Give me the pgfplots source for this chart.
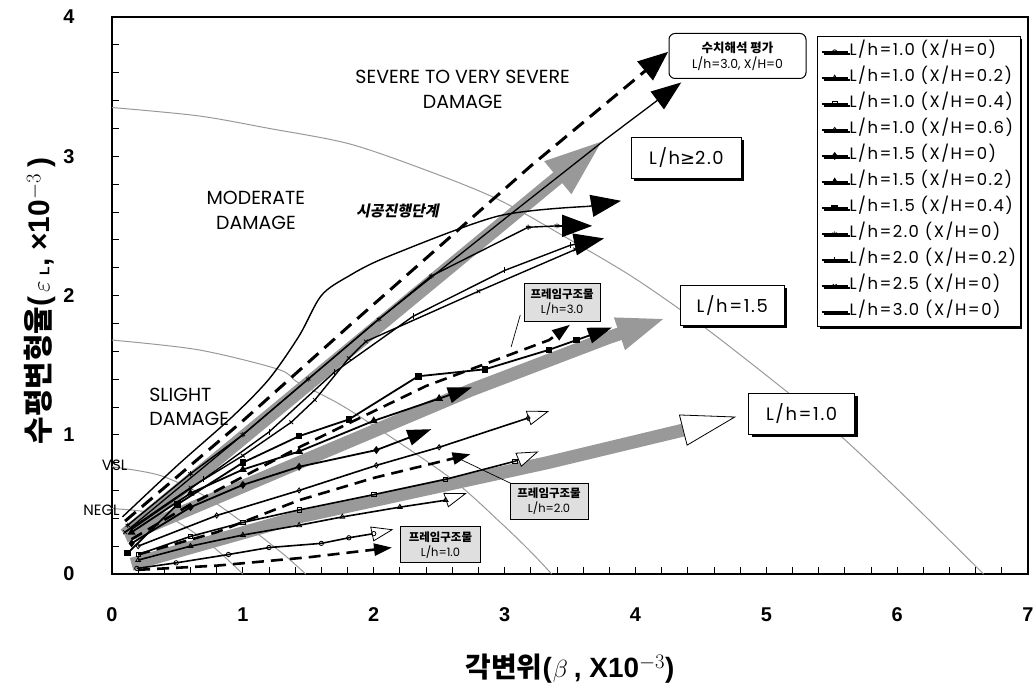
\documentclass[border=0pt]{standalone}
\usepackage{fontspec}
\usepackage{pgfplots}
\pgfplotsset{compat=1.18}
\usetikzlibrary{arrows.meta,shadows}
\setmainfont{Poppins}
\newfontfamily\legfont{Poppins}[LetterSpace=9]
\newfontfamily\tickfont{Liberation Sans}
\newfontfamily\kr{Noto Sans CJK KR}
\newfontfamily\krit{Noto Sans CJK KR}[FakeSlant=0.2]
\newfontfamily\dejavu{DejaVu Sans}
\definecolor{bnd}{gray}{0.6}
\definecolor{band}{gray}{0.6}
\begin{document}
\begin{tikzpicture}
\path[use as bounding box] (-112bp,-126bp) rectangle (924bp,574bp);
\begin{axis}[
 scale only axis, width=916bp, height=557bp,
 xmin=0,xmax=7,ymin=0,ymax=4,
 axis line style={line width=1.8bp},
 xtick={0,...,7}, ytick={0,...,4},
 minor x tick num=4, minor y tick num=4,
 xtick pos=bottom, ytick pos=left, tick align=inside,
 major tick length=7bp, minor tick length=7bp,
 tick style={black, line width=0.8bp},
 ticklabel style={font=\tickfont\bfseries\fontsize{20}{20}\selectfont},
 /pgf/number format/assume math mode=true,
 xticklabel style={yshift=-30bp},
 yticklabel style={xshift=-34bp},
 clip=false,
 legend style={at={(axis cs:5.39,3.86)}, anchor=north west, draw=black, line width=1bp,
   font=\legfont\fontsize{16.5}{16.5}\selectfont, cells={anchor=west},
   nodes={text height=12bp, text depth=4bp, inner ysep=5bp, inner xsep=1bp},
   drop shadow={opacity=1,shadow xshift=2bp,shadow yshift=-2bp,fill=black}, fill=white},
 legend image code/.code={\draw[mark=none] (0bp,0bp) -- (26bp,0bp); \draw plot coordinates {(13bp,0bp)};},
]
% damage boundary curves
\addplot[forget plot, bnd, line width=1bp, smooth] coordinates {(0,3.35)(0.66,3.29)(1.2,3.2)(1.81,3.09)(2.4,2.9)(2.95,2.69)(3.5,2.4)(4.0,2.12)(4.53,1.77)(5.17,1.30)(5.57,0.99)(6.1,0.52)(6.66,0)};
\addplot[forget plot, bnd, line width=1bp, smooth] coordinates {(0,1.68)(0.66,1.61)(1.27,1.47)(1.43,1.37)(1.81,1.18)(2.57,0.70)(2.98,0.36)(3.21,0.15)(3.36,0)};
\addplot[forget plot, bnd, line width=1bp, smooth] coordinates {(0,0.77)(0.36,0.71)(0.69,0.57)(0.97,0.39)(1.30,0.15)(1.48,0)};
\addplot[forget plot, bnd, line width=1bp, smooth] coordinates {(0,0.47)(0.4,0.42)(0.74,0.22)(1.0,0)};
% gray bands
\addplot[forget plot, band, line width=14bp, -{Triangle[length=60bp,width=38bp]}] coordinates {(0.1,0.28)(3.76,3.12)};
\addplot[forget plot, band, line width=13bp, -{Triangle[length=50bp,width=30bp]}] coordinates {(0.1,0.27)(1.43,0.80)(2.74,1.32)(3.8,1.7)(4.24,1.84)};
\addplot[forget plot, band, line width=13bp, -{Triangle[length=55bp,width=32bp,color=black,fill=white,line width=0.8bp]}] coordinates {(0.15,0.07)(1.43,0.41)(3.33,0.80)(4.35,1.03)(4.77,1.13)};
% L/h=1.0 group
\addplot[black, line width=1.6bp, mark=o, mark size=2.2bp, mark options={fill=white,line width=0.8bp}] coordinates {(0.19,0.04)(0.49,0.08)(0.89,0.14)(1.2,0.19)(1.6,0.22)(1.81,0.26)(2.0,0.29)};
\addlegendentry{L/h=1.0 (X/H=0)}
\addplot[black, line width=1.6bp, mark=triangle, mark size=2.8bp, mark options={fill=white,line width=0.8bp}] coordinates {(0.2,0.1)(0.6,0.2)(1.0,0.28)(1.43,0.35)(1.76,0.41)(2.2,0.48)(2.55,0.53)};
\addlegendentry{L/h=1.0 (X/H=0.2)}
\addplot[black, line width=1.6bp, mark=square, mark size=2.2bp, mark options={fill=white,line width=0.8bp}] coordinates {(0.2,0.14)(0.6,0.27)(1.0,0.37)(1.43,0.46)(2.0,0.57)(2.55,0.68)(3.08,0.81)};
\addlegendentry{L/h=1.0 (X/H=0.4)}
\addplot[black, line width=1.6bp, mark=diamond, mark size=2.6bp, mark options={fill=white,line width=0.8bp}] coordinates {(0.2,0.2)(0.8,0.42)(1.43,0.60)(2.02,0.78)(2.5,0.91)(3.18,1.12)};
\addlegendentry{L/h=1.0 (X/H=0.6)}
% L/h=1.5 group
\addplot[black, line width=1.8bp, mark=diamond*, mark size=2.6bp] coordinates {(0.15,0.22)(0.6,0.48)(1.0,0.64)(1.43,0.77)(2.02,0.89)(2.3,0.99)};
\addlegendentry{L/h=1.5 (X/H=0)}
\addplot[black, line width=1.8bp, mark=triangle*, mark size=2.8bp] coordinates {(0.15,0.3)(0.6,0.58)(1.0,0.75)(1.43,0.88)(2.0,1.1)(2.5,1.26)};
\addlegendentry{L/h=1.5 (X/H=0.2)}
\addplot[black, line width=1.8bp, mark=square*, mark size=2.4bp] coordinates {(0.12,0.15)(0.5,0.5)(1.0,0.8)(1.43,0.99)(1.81,1.11)(2.34,1.42)(2.85,1.47)(3.34,1.61)(3.55,1.68)};
\addlegendentry{L/h=1.5 (X/H=0.4)}
% L/h>=2 group
\addplot[black, line width=1.4bp, mark=asterisk, mark size=2.6bp, mark options={line width=0.8bp}] coordinates {(0.12,0.35)(0.6,0.72)(1.0,1.0)(1.5,1.4)(2.04,1.83)(2.44,2.14)(3.18,2.49)(3.4,2.5)};
\addlegendentry{L/h=2.0 (X/H=0)}
\addplot[black, line width=1.4bp, mark=|, mark size=3bp, mark options={line width=0.8bp}] coordinates {(0.15,0.32)(0.7,0.68)(1.2,1.02)(1.7,1.45)(2.3,1.85)(3.0,2.18)(3.5,2.36)};
\addlegendentry{L/h=2.0 (X/H=0.2)}
\addplot[black, line width=1.4bp, mark=x, mark size=2.6bp, mark options={line width=0.8bp}] coordinates {(0.1,0.3)(0.6,0.62)(1.0,0.85)(1.37,1.09)(1.55,1.25)(1.81,1.55)(1.94,1.67)(2.8,2.03)(3.54,2.33)};
\addlegendentry{L/h=2.5 (X/H=0)}
\addplot[black, line width=1.4bp, smooth] coordinates {(0.08,0.41)(0.5,0.78)(0.92,1.13)(1.2,1.4)(1.43,1.71)(1.6,2.0)(1.81,2.14)(2.11,2.28)(2.95,2.57)(3.64,2.64)};
\addlegendentry{L/h=3.0 (X/H=0)}
% arrow segments
\addplot[forget plot, black, line width=1.6bp, -{Triangle[length=22bp,width=15bp,fill=white,line width=0.8bp]}] coordinates {(2.0,0.29)(2.15,0.32)};
\addplot[forget plot, black, line width=1.6bp, -{Triangle[length=22bp,width=15bp,fill=white,line width=0.8bp]}] coordinates {(2.55,0.53)(2.71,0.58)};
\addplot[forget plot, black, line width=1.6bp, -{Triangle[length=22bp,width=15bp,fill=white,line width=0.8bp]}] coordinates {(3.08,0.81)(3.26,0.88)};
\addplot[forget plot, black, line width=1.6bp, -{Triangle[length=22bp,width=15bp,fill=white,line width=0.8bp]}] coordinates {(3.18,1.12)(3.34,1.17)};
\addplot[forget plot, black, line width=1.8bp, -{Triangle[length=24bp,width=16bp]}] coordinates {(2.3,0.99)(2.44,1.04)};
\addplot[forget plot, black, line width=1.8bp, -{Triangle[length=24bp,width=16bp]}] coordinates {(2.5,1.26)(2.75,1.34)};
\addplot[forget plot, black, line width=1.8bp, -{Triangle[length=24bp,width=16bp]}] coordinates {(3.55,1.68)(3.82,1.77)};
\addplot[forget plot, black, line width=1.4bp, -{Triangle[length=30bp,width=22bp]}] coordinates {(3.4,2.5)(3.67,2.5)};
\addplot[forget plot, black, line width=1.4bp, -{Triangle[length=30bp,width=22bp]}] coordinates {(3.5,2.36)(3.76,2.41)};
\addplot[forget plot, black, line width=1.4bp] coordinates {(3.54,2.33)(3.6,2.36)};
\addplot[forget plot, black, line width=1.4bp, -{Triangle[length=30bp,width=22bp]}] coordinates {(3.64,2.64)(3.89,2.68)};
% thin solid to numerical box
\addplot[forget plot, black, line width=1.3bp, -{Triangle[length=30bp,width=22bp]}] coordinates {(0.1,0.3)(1.0,1.0)(2.0,1.8)(3.0,2.55)(3.77,3.12)(4.35,3.53)};
% dashed lines
\addplot[forget plot, black, line width=3bp, dash pattern=on 14bp off 8bp, -{Triangle[length=30bp,width=24bp]}] coordinates {(0.1,0.38)(1.0,1.1)(1.81,1.78)(2.5,2.35)(3.2,2.93)(4.25,3.75)};
\addplot[forget plot, black, line width=2.6bp, dash pattern=on 12bp off 7bp, -{Triangle[length=18bp,width=12bp]}] coordinates {(0.15,0.25)(0.6,0.5)(1.43,0.91)(2.4,1.35)(3.34,1.68)(3.5,1.79)};
\addplot[forget plot, black, line width=2.6bp, dash pattern=on 12bp off 7bp, -{Triangle[length=18bp,width=12bp]}] coordinates {(0.2,0.14)(0.8,0.3)(1.43,0.53)(2.0,0.69)(2.74,0.86)};
\addplot[forget plot, black, line width=2.6bp, dash pattern=on 12bp off 7bp, -{Triangle[length=18bp,width=12bp]}] coordinates {(0.2,0.03)(0.8,0.06)(1.5,0.12)(2.14,0.19)};
% pointer lines
\draw[black, line width=0.7bp] (axis cs:3.12,1.86) -- (axis cs:3.05,1.63);
\draw[black, line width=0.7bp] (axis cs:3.05,0.65) -- (axis cs:2.67,0.82);
% labels
\node[align=center, font=\fontsize{19}{25}\selectfont] at (axis cs:2.68,3.48) {SEVERE TO VERY SEVERE\\DAMAGE};
\node[align=center, font=\fontsize{19}{25}\selectfont] at (axis cs:1.10,2.61) {MODERATE\\DAMAGE};
\node[align=left, font=\fontsize{19}{25}\selectfont] at (axis cs:0.59,1.20) {SLIGHT\\DAMAGE};
\node[font=\krit\bfseries\fontsize{15}{15}\selectfont] at (axis cs:2.18,2.61) {시공진행단계};
\node[font=\fontsize{15}{15}\selectfont] at (axis cs:0.02,0.78) {VSL};
\node[font=\fontsize{15}{15}\selectfont] at (axis cs:-0.08,0.46) {NEGL};
% boxes
\node[draw, line width=1bp, fill=white, rounded corners=6bp, minimum width=137bp, minimum height=45bp, align=center, font=\fontsize{12.5}{16}\selectfont] at (axis cs:4.78,3.72) {{\kr\bfseries 수치해석 평가}\\L/h=3.0, X/H=0};
\node[draw, line width=1bp, fill=white, drop shadow={opacity=1,shadow xshift=3bp,shadow yshift=-3bp,fill=black}, minimum width=110bp, minimum height=41bp, font=\legfont\fontsize{18}{18}\selectfont] at (axis cs:4.39,2.99) {L/h{\dejavu ≥}2.0};
\node[draw, line width=1bp, fill=white, drop shadow={opacity=1,shadow xshift=3bp,shadow yshift=-3bp,fill=black}, minimum width=104bp, minimum height=40bp, font=\legfont\fontsize{18}{18}\selectfont] at (axis cs:4.74,1.93) {L/h=1.5};
\node[draw, line width=1bp, fill=white, drop shadow={opacity=1,shadow xshift=3bp,shadow yshift=-3bp,fill=black}, minimum width=106bp, minimum height=41bp, font=\legfont\fontsize{18}{18}\selectfont] at (axis cs:5.27,1.15) {L/h=1.0};
\node[draw, line width=0.8bp, fill=gray!25, minimum width=76bp, minimum height=38bp, align=center, inner sep=1bp, font=\fontsize{11.5}{15}\selectfont] at (axis cs:3.44,1.95) {{\kr\bfseries 프레임구조물}\\L/h=3.0};
\node[draw, line width=0.8bp, fill=gray!25, minimum width=78bp, minimum height=36bp, align=center, inner sep=1bp, font=\fontsize{11.5}{15}\selectfont] at (axis cs:3.34,0.52) {{\kr\bfseries 프레임구조물}\\L/h=2.0};
\node[draw, line width=0.8bp, fill=gray!25, minimum width=80bp, minimum height=36bp, align=center, inner sep=1bp, font=\fontsize{11.5}{15}\selectfont] at (axis cs:2.51,0.21) {{\kr\bfseries 프레임구조물}\\L/h=1.0};
% axis labels
\node[rotate=90, font=\tickfont\bfseries\fontsize{30}{30}\selectfont] at (rel axis cs:-0.079,0.49) {{\kr 수평변형율}(\hspace{4bp}$\varepsilon$\hspace{6bp}{\fontsize{14}{14}\selectfont L},\hspace{8bp}×10$^{-3}$\hspace{6bp})};
\node[font=\tickfont\bfseries\fontsize{28}{28}\selectfont] at (rel axis cs:0.5,-0.169) {{\kr 각변위}(\kern1bp$\beta$\hspace{6bp}, X10$^{-3}$)};
\end{axis}
\end{tikzpicture}
\end{document}
